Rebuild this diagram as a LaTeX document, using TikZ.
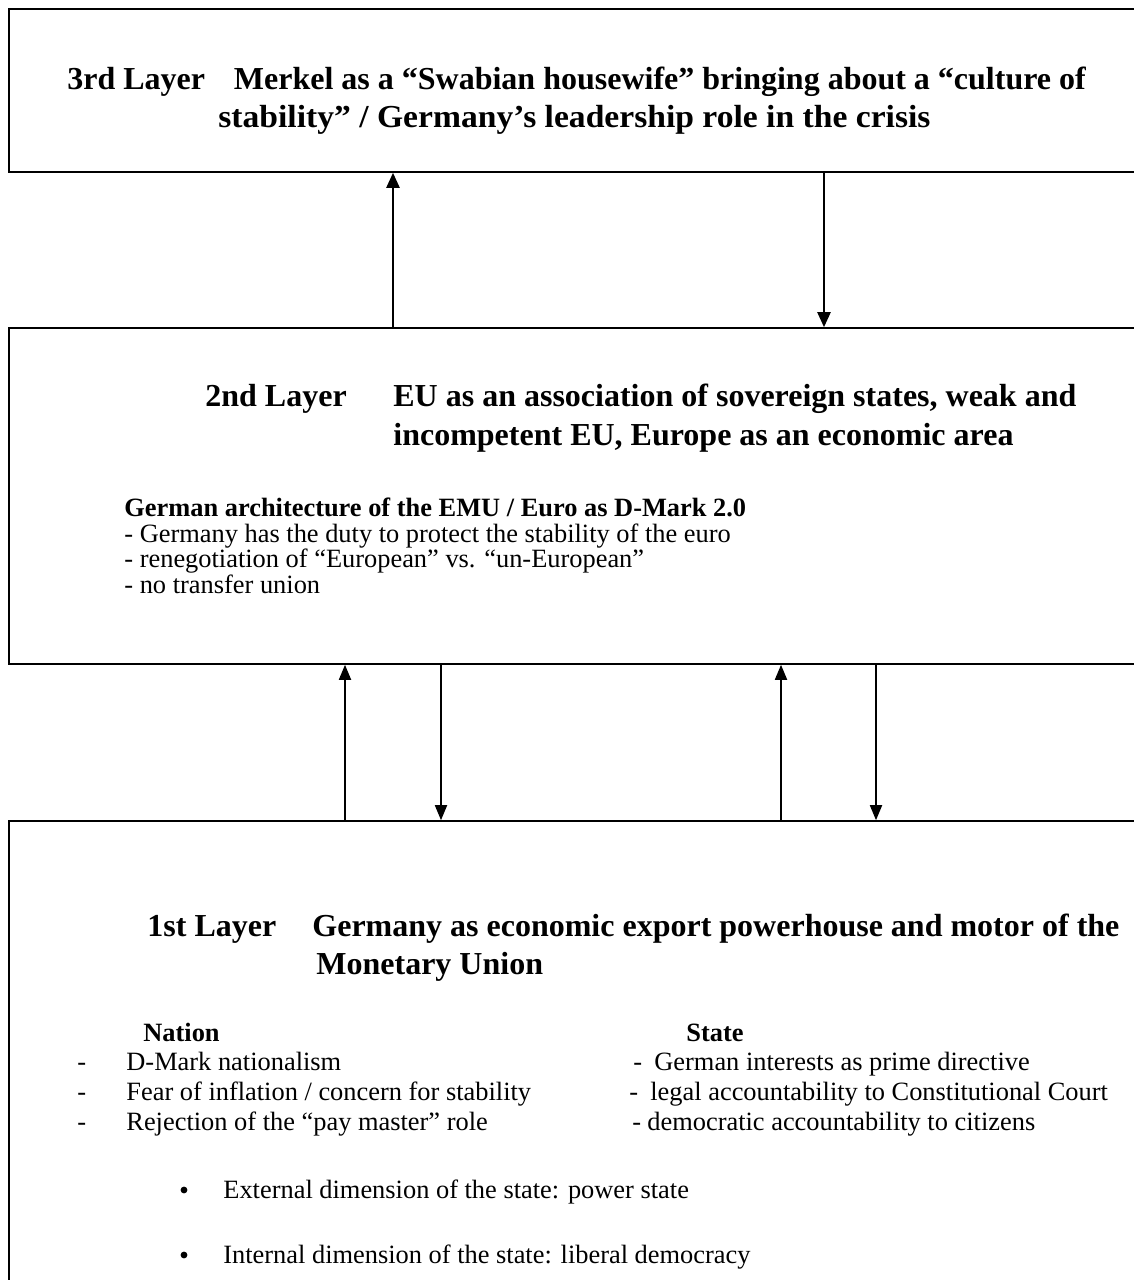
\documentclass[tikz,border=0pt]{standalone}
\usepackage{fontspec}
\usepackage{graphicx}
\setmainfont{Liberation Serif}
\usetikzlibrary{arrows.meta,fit}
\begin{document}
\begin{tikzpicture}[x=0.5pt,y=-0.5pt,
  layerbox/.style={draw,line width=0.8pt,inner sep=0pt},
  ttl/.style={anchor=base west,inner sep=0pt,font=\fontsize{16}{19}\selectfont\bfseries},
  body/.style={anchor=base west,inner sep=0pt,font=\fontsize{13.2}{16}\selectfont},
  bodyb/.style={anchor=base west,inner sep=0pt,font=\fontsize{13.2}{16}\selectfont\bfseries},
  bulletdot/.style={circle,fill=black,inner sep=0pt,minimum size=3.4pt},
  link/.style={line width=1.15pt,-{Triangle[length=7.5pt,width=6.5pt]}},
  linkthin/.style={line width=0.9pt,-{Triangle[length=7.5pt,width=6pt]}}]
\useasboundingbox (0,0) rectangle (1134,1280);
\fill[white] (0,0) rectangle (1134,1280);
\clip (0,0) rectangle (1134,1280);
% boxes
\node[layerbox,fit={(9,9) (1160,172)}] (L3) {};
\node[layerbox,fit={(9,328) (1160,664)}] (L2) {};
\node[layerbox,fit={(9,821) (1160,1320)}] (L1) {};
% arrows
\draw[link] (L2.north -| 393,0) -- (L3.south -| 393,0);
\draw[link] (L3.south -| 824,0) -- (L2.north -| 824,0);
\draw[linkthin] (L1.north -| 345,0) -- (L2.south -| 345,0);
\draw[linkthin] (L2.south -| 441,0) -- (L1.north -| 441,0);
\draw[linkthin] (L1.north -| 781,0) -- (L2.south -| 781,0);
\draw[linkthin] (L2.south -| 876,0) -- (L1.north -| 876,0);
% top
\node[ttl] (t1) at (67,89) {3rd Layer\hspace{0.9em}Merkel as a “Swabian housewife” bringing about a “culture of};
\node[ttl] (t2) at (218,127) {\scalebox{1.05}[1]{stability” / Germany’s leadership role in the crisis}};
% middle
\node[ttl] (m0) at (205,406) {2nd Layer};
\node[ttl] (m1) at (393,406) {EU as an association of sovereign states, weak and};
\node[ttl] (m2) at (393,445) {incompetent EU, Europe as an economic area};
\node[bodyb] (m3) at (124,516) {German architecture of the EMU / Euro as D-Mark 2.0};
\node[body] (m4) at (124,542) {- Germany has the duty to protect the stability of the euro};
\node[body] (m5) at (124,567) {- renegotiation of “European” vs. “un-European”};
\node[body] (m6) at (124,593) {- no transfer union};
% bottom
\node[ttl] (b0) at (147,936) {1st Layer};
\node[ttl] (b1) at (312,936) {Germany as economic export powerhouse and motor of the};
\node[ttl] (b2) at (316,974) {Monetary Union};
\node[bodyb] (n0) at (143,1041) {Nation};
\node[body] (n1d) at (77,1070) {-};
\node[body] (n1) at (126,1070) {D-Mark nationalism};
\node[body] (n2d) at (77,1100) {-};
\node[body] (n2) at (126,1100) {Fear of inflation / concern for stability};
\node[body] (n3d) at (77,1130) {-};
\node[body] (n3) at (126,1130) {Rejection of the “pay master” role};
\node[bodyb] (s0) at (686,1041) {State};
\node[body] (s1d) at (633,1070) {-};
\node[body] (s1) at (654,1070) {German interests as prime directive};
\node[body] (s2d) at (629,1100) {-};
\node[body] (s2) at (650,1100) {legal accountability to Constitutional Court};
\node[body] (s3d) at (632,1130) {-};
\node[body] (s3) at (647,1130) {democratic accountability to citizens};
\node[bulletdot] (d1b) at (184,1190) {};
\node[body] (d1) at (223,1198) {External dimension of the state: power state};
\node[bulletdot] (d2b) at (184,1255) {};
\node[body] (d2) at (223,1263) {Internal dimension of the state: liberal democracy};
\end{tikzpicture}
\end{document}
